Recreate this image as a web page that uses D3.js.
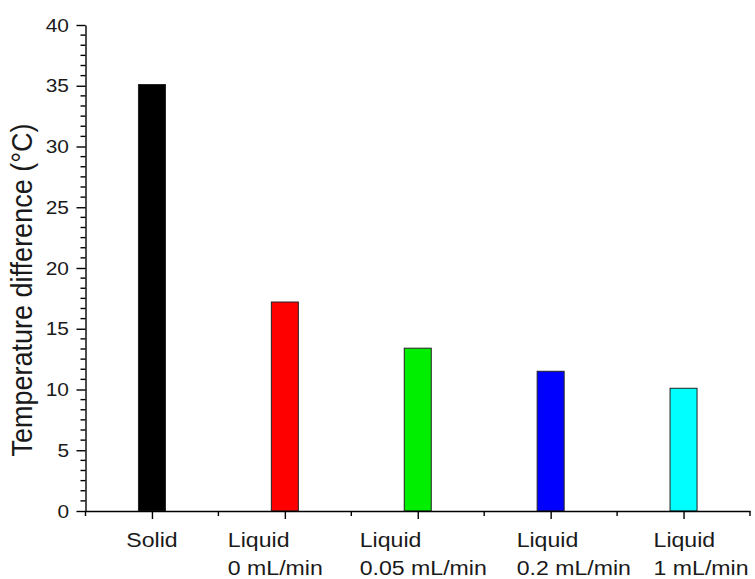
<!DOCTYPE html>
<html>
<head>
<meta charset="utf-8">
<script src="https://cdn.jsdelivr.net/npm/d3@7"></script>
<style>
  html, body { margin: 0; padding: 0; background: #fff; }
  svg { display: block; font-family: Arial, "Liberation Sans", sans-serif; }
</style>
</head>
<body>
<svg id="chart" width="755" height="579"></svg>
<script>
// Temperature difference for each cooling configuration
const categories = ["Solid", "Liquid 0 mL/min", "Liquid 0.05 mL/min", "Liquid 0.2 mL/min", "Liquid 1 mL/min"];
const labelLines = [["Solid"], ["Liquid", "0 mL/min"], ["Liquid", "0.05 mL/min"], ["Liquid", "0.2 mL/min"], ["Liquid", "1 mL/min"]];
const values = [35.1, 17.2, 13.4, 11.5, 10.1];
const barColors = ["#000000", "#ff0000", "#00ee00", "#0000ff", "#00ffff"];
const yTicks = [0, 5, 10, 15, 20, 25, 30, 35, 40];
const yTitle = "Temperature difference (\u00b0C)";

// Plot area
const plot = { left: 85.5, right: 750, top: 25, bottom: 511 };
// left edge of each two-line label relative to its tick (null = centred)
const labelShift = [null, -57, -58, -34, -30];
// text is drawn slightly wide
const textStretch = 1.1;

const svg = d3.select("#chart");

const x = d3.scaleLinear().domain([0.5, categories.length + 0.5]).range([plot.left, plot.right]);
const y = d3.scaleLinear().domain([0, 40]).range([plot.bottom, plot.top]);
const barWidth = 27;

// Bars
svg.append("g").selectAll("rect")
  .data(values)
  .join("rect")
  .attr("x", (d, i) => x(i + 1) - barWidth / 2)
  .attr("y", d => y(d))
  .attr("width", barWidth)
  .attr("height", d => y(0) - y(d))
  .attr("fill", (d, i) => barColors[i])
  .attr("stroke", "#222")
  .attr("stroke-width", 1);

// Y axis: major ticks every 5, five minor ticks between
const minorY = d3.range(0, 40 + 1e-9, 5 / 6).filter(v => Math.abs(v / 5 - Math.round(v / 5)) > 1e-6);
const yAxis = svg.append("g").attr("transform", `translate(${plot.left},0)`);
yAxis.call(d3.axisLeft(y).tickValues(yTicks).tickSize(9).tickPadding(6).tickSizeOuter(0))
  .call(g => g.select(".domain").attr("stroke", "#000").attr("stroke-width", 1.4))
  .call(g => g.selectAll(".tick line").attr("stroke", "#000").attr("stroke-width", 1.4))
  .call(g => g.selectAll(".tick text").attr("font-size", 19).attr("fill", "#1a1a1a")
      .attr("font-family", "Arial, 'Liberation Sans', sans-serif")
      .attr("transform", `scale(${textStretch},1)`));
yAxis.append("g").selectAll("line")
  .data(minorY)
  .join("line")
  .attr("x1", -5).attr("x2", 0)
  .attr("y1", d => y(d)).attr("y2", d => y(d))
  .attr("stroke", "#000").attr("stroke-width", 1.4);

// X axis: long ticks at the categories, short ticks between them
const xAxis = svg.append("g").attr("transform", `translate(0,${plot.bottom})`);
xAxis.call(d3.axisBottom(x).tickValues(d3.range(1, categories.length + 1)).tickSize(8).tickFormat("").tickSizeOuter(0))
  .call(g => g.select(".domain").attr("stroke", "#000").attr("stroke-width", 1.4))
  .call(g => g.selectAll(".tick line").attr("stroke", "#000").attr("stroke-width", 1.4));
xAxis.append("g").selectAll("line")
  .data(d3.range(0.5, categories.length + 1, 1))
  .join("line")
  .attr("x1", d => x(d)).attr("x2", d => x(d))
  .attr("y1", 0).attr("y2", 5)
  .attr("stroke", "#000").attr("stroke-width", 1.4);

// Category labels
const labels = svg.append("g").attr("font-size", 21).attr("fill", "#1a1a1a");
labelLines.forEach((lines, i) => {
  const cx = x(i + 1);
  const lx = labelShift[i] === null ? cx : cx + labelShift[i];
  const t = labels.append("text")
    .attr("transform", `translate(${lx},547) scale(${textStretch},1)`)
    .attr("text-anchor", labelShift[i] === null ? "middle" : "start");
  lines.forEach((line, k) => {
    t.append("tspan")
      .attr("x", 0)
      .attr("dy", k === 0 ? 0 : 28)
      .text(line);
  });
});

// Y axis title
svg.append("text")
  .attr("transform", `translate(32,290) scale(${textStretch},1) rotate(-90)`)
  .attr("text-anchor", "middle")
  .attr("font-size", 27)
  .attr("fill", "#1a1a1a")
  .text(yTitle);
</script>
</body>
</html>
